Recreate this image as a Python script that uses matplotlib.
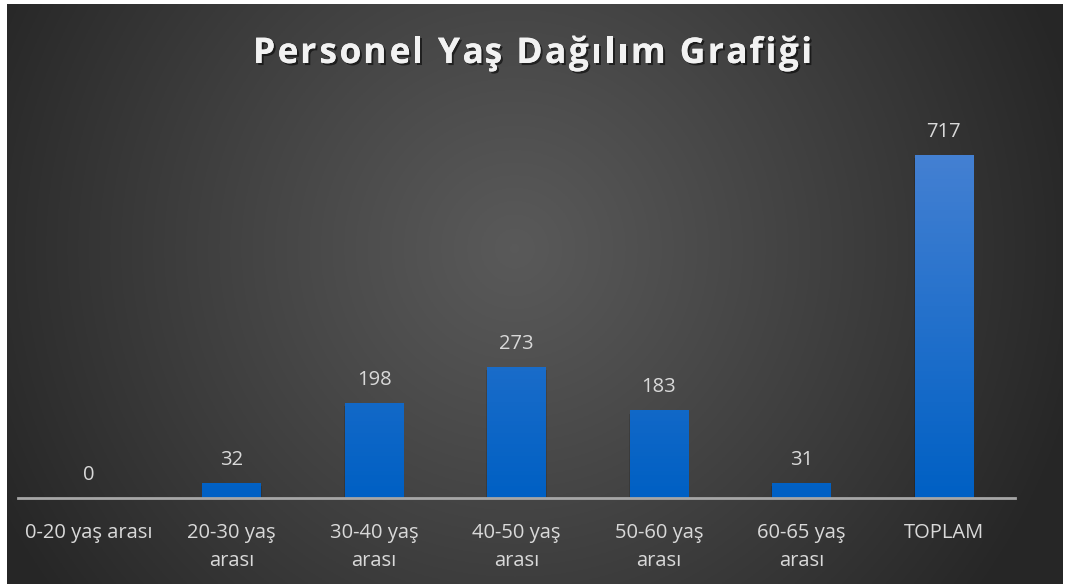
import numpy as np
import matplotlib
matplotlib.use("Agg")
import matplotlib.pyplot as plt
import matplotlib.patheffects as pe

categories = ["0-20 yaş arası", "20-30 yaş\narası", "30-40 yaş\narası", "40-50 yaş\narası",
              "50-60 yaş\narası", "60-65 yaş\narası", "TOPLAM"]
values = [0, 32, 198, 273, 183, 31, 717]
title = "Personel Yaş Dağılım Grafiği"

W, H = 1068, 584
fig = plt.figure(figsize=(W / 100, H / 100), dpi=100)
fig.patch.set_facecolor("white")

# background with radial gradient
bx0, bx1, by0, by1 = 7, 1063, 4, 584
bg = fig.add_axes([bx0 / W, 1 - by1 / H, (bx1 - bx0) / W, (by1 - by0) / H])
bg.set_axis_off()
yy, xx = np.mgrid[0:300, 0:600]
cx, cy = 0.48 * 600, 0.42 * 300
d = np.sqrt(((xx - cx) / 600) ** 2 + ((yy - cy) / 300 * 0.55) ** 2)
d = np.clip(d / 0.55, 0, 1)
c = 0.35 - (0.35 - 0.15) * d ** 1.1
img = np.dstack([c, c, c])
bg.imshow(img, aspect="auto", extent=[0, 1, 0, 1], origin="upper")
bg.set_xlim(0, 1); bg.set_ylim(0, 1)

# main axes
ax_l, ax_r, ax_b, ax_t = 18, 1015, 498, 115
ax = fig.add_axes([ax_l / W, 1 - ax_b / H, (ax_r - ax_l) / W, (ax_b - ax_t) / H])
ax.patch.set_alpha(0)
x = np.arange(len(categories))
ymax = (ax_b - ax_t) / ((498 - 155) / 717)
ax.set_xlim(-0.5, len(categories) - 0.5)
ax.set_ylim(0, ymax)

bars = ax.bar(x, values, width=0.41, color="#1a6fd0", zorder=3)
grad = np.linspace(0, 1, 100).reshape(-1, 1)
top = np.array([0x4c, 0x84, 0xd4]) / 255
bot = np.array([0x00, 0x60, 0xc4]) / 255
gimg = top[None, None, :] * (1 - grad[:, :, None]) + bot[None, None, :] * grad[:, :, None]
for b, v in zip(bars, values):
    if v <= 0:
        continue
    ax.bar(b.get_x() + b.get_width() / 2, v, width=b.get_width() + 0.012,
           bottom=-ymax * 0.008, color="black", alpha=0.15, zorder=2, linewidth=0)
    im = ax.imshow(gimg, extent=[b.get_x(), b.get_x() + b.get_width(), 0, ymax],
                   aspect="auto", zorder=4, origin="upper")
    im.set_clip_path(b)

for xi, v in zip(x, values):
    ax.text(xi, v + ymax * 0.034, str(v), ha="center", va="bottom",
            fontsize=14.5, color="#d9d9d9", family="Open Sans", zorder=5)

for s in ["top", "right", "left"]:
    ax.spines[s].set_visible(False)
ax.spines["bottom"].set_color("#a6a6a6")
ax.spines["bottom"].set_linewidth(2)
ax.spines["bottom"].set_zorder(6)
ax.set_yticks([])
ax.set_xticks(x)
ax.set_xticklabels(categories, fontsize=14.5, color="#d9d9d9", family="Open Sans",
                   linespacing=1.55)
ax.tick_params(axis="x", length=0, pad=18)
ax.set_xlim(-0.5, len(categories) - 0.5)

# letter-spaced title
renderer = fig.canvas.get_renderer()
tkw = dict(fontsize=25.5, fontweight="bold", family="Open Sans")
def _w(s):
    t = fig.text(0, 0, s, **tkw)
    w = t.get_window_extent(renderer).width
    t.remove()
    return w
wx = _w("x")
offs = [_w(title[:i] + "x") - wx for i in range(len(title))]
natural = _w(title)
target_w = 812 - 253
spacing = (target_w - natural) / (len(title) - 1)
x0 = 253
for i, ch in enumerate(title):
    if ch == " ":
        continue
    fig.text((x0 + offs[i] + i * spacing) / W, 1 - 54 / H, ch, ha="left", va="center",
             color="#f2f2f2",
             path_effects=[pe.withSimplePatchShadow(offset=(1.5, -1.5), shadow_rgbFace="black", alpha=0.55),
                           pe.Normal()], **tkw)

fig.savefig("out.png", dpi=100)
